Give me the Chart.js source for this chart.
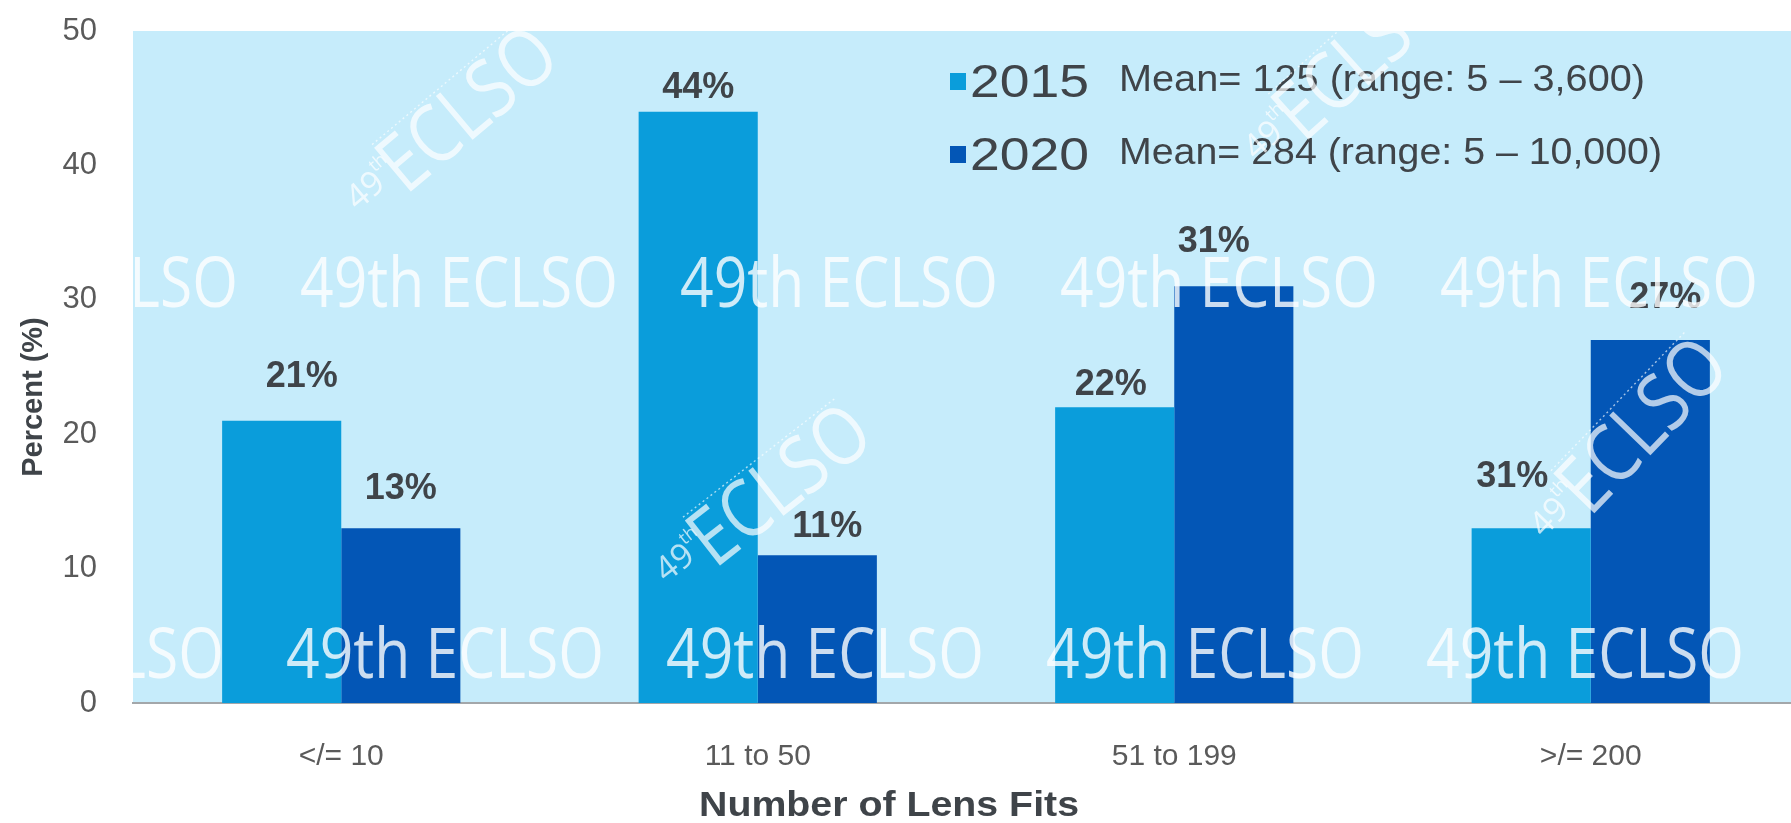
<!DOCTYPE html>
<html>
<head>
<meta charset="utf-8">
<title>Number of Lens Fits</title>
<script src="https://cdn.jsdelivr.net/npm/chart.js@4.4.0/dist/chart.umd.min.js"></script>
<style>
  html, body { margin: 0; padding: 0; background: #fff; overflow: hidden; }
  canvas { display: block; }
</style>
</head>
<body>
<canvas id="chart" width="1800" height="823"></canvas>
<script>
// ================= DATA =================
const categories = ["</= 10", "11 to 50", "51 to 199", ">/= 200"];
const seriesNames = ["2015", "2020"];
const seriesNotes = ["Mean= 125 (range: 5 \u2013 3,600)", "Mean= 284 (range: 5 \u2013 10,000)"];
const pct2015 = [21, 44, 22, 13];
const pct2020 = [13, 11, 31, 27];
// printed value labels, as they appear on the slide
const text2015 = ["21%", "44%", "22%", "31%"];
const text2020 = ["13%", "11%", "31%", "27%"];
const yTicks = [0, 10, 20, 30, 40, 50];

// ================= STYLE =================
const FONT = "'Liberation Sans', Arial, sans-serif";
const colors = ["#0a9ddb", "#0356b6"];
const plotBg = "#c6ecfb";
const textDark = "#3f4449";
const textGrey = "#5a5a5a";
// how far each value label sits above its bar, and a small sideways nudge
const labelLift = [[44, 24, 22, 51], [39, 28, 44, 42]];
const labelNudge = [[20, 0, -4, -19], [0, 10, -20, 15]];
const stamps = [
    { x: 470, y: 112, a: -40 },
    { x: 782, y: 488, a: -38 },
    { x: 1645, y: 428, a: -46 },
    { x: 1365, y: 58, a: -42 }
];

// text squeezed or stretched to a set width (the slide uses a narrow face)
function fitText(ctx, text, x, y, width){
    const w = ctx.measureText(text).width;
    ctx.save();
    ctx.translate(x, y);
    ctx.scale(width / w, 1);
    ctx.fillText(text, 0, 0);
    ctx.restore();
}

// ================= PLUGINS =================
const plotBackground = {
    id: "plotBackground",
    beforeDraw(chart){
        const { ctx, chartArea: a } = chart;
        ctx.save();
        ctx.fillStyle = plotBg;
        ctx.fillRect(a.left, a.top, a.right - a.left, a.bottom - a.top);
        ctx.restore();
    }
};

const valueLabels = {
    id: "valueLabels",
    afterDatasetsDraw(chart){
        const ctx = chart.ctx;
        const texts = [text2015, text2020];
        ctx.save();
        ctx.font = "bold 36px " + FONT;
        ctx.fillStyle = textDark;
        ctx.textAlign = "center";
        ctx.textBaseline = "middle";
        chart.data.datasets.forEach((ds, d) => {
            chart.getDatasetMeta(d).data.forEach((bar, i) => {
                ctx.fillText(texts[d][i], bar.x + labelNudge[d][i], bar.y - labelLift[d][i]);
            });
        });
        ctx.restore();
    }
};

const legendAndTitles = {
    id: "legendAndTitles",
    afterDraw(chart){
        const ctx = chart.ctx;
        ctx.save();
        ctx.textBaseline = "middle";
        ctx.textAlign = "left";
        const rows = [81, 154];
        const noteWidths = [526, 543];
        chart.data.datasets.forEach((ds, i) => {
            ctx.fillStyle = ds.backgroundColor;
            ctx.fillRect(950, rows[i] - 8, 16, 17);
            ctx.fillStyle = textDark;
            ctx.font = "46px " + FONT;
            fitText(ctx, ds.label, 970, rows[i] + 3, 119);
            ctx.font = "37px " + FONT;
            fitText(ctx, seriesNotes[i], 1119, rows[i], noteWidths[i]);
        });

        // axis titles
        ctx.fillStyle = textDark;
        ctx.textAlign = "left";
        ctx.font = "bold 35px " + FONT;
        fitText(ctx, "Number of Lens Fits", 699, 806, 380);

        ctx.textAlign = "center";
        ctx.translate(34, 397);
        ctx.rotate(-Math.PI / 2);
        ctx.font = "bold 29px " + FONT;
        ctx.fillText("Percent (%)", 0, 0);
        ctx.restore();
    }
};

function drawStamp(ctx, s){
    ctx.save();
    ctx.translate(s.x, s.y);
    ctx.rotate(s.a * Math.PI / 180);
    ctx.fillStyle = "rgba(255,255,255,0.7)";
    ctx.strokeStyle = "rgba(255,255,255,0.65)";
    ctx.textBaseline = "middle";
    ctx.textAlign = "center";

    ctx.save();
    ctx.scale(0.85, 1);
    ctx.font = "80px 'Open Sans', sans-serif";
    ctx.fillText("ECLSO", 0, 0);
    ctx.restore();

    ctx.textAlign = "left";
    ctx.font = "34px 'Open Sans', sans-serif";
    ctx.fillText("49", -150, -6);
    ctx.font = "18px 'Open Sans', sans-serif";
    ctx.fillText("th", -112, -20);

    ctx.setLineDash([2, 3]);
    ctx.lineWidth = 1.4;
    ctx.beginPath();
    ctx.moveTo(-96, -38);
    ctx.lineTo(96, -38);
    ctx.stroke();
    ctx.restore();
}

const watermark = {
    id: "watermark",
    afterDraw(chart){
        const { ctx, chartArea: a } = chart;
        ctx.save();
        ctx.beginPath();
        ctx.rect(a.left, a.top, a.right - a.left, a.bottom - a.top);
        ctx.clip();
        ctx.fillStyle = "rgba(255,255,255,0.8)";
        ctx.font = "70px 'Open Sans', sans-serif";
        ctx.textBaseline = "alphabetic";
        ctx.textAlign = "left";
        const word = "49th ECLSO";
        [[307, -80], [678, -94]].forEach(([base, start]) => {
            for(let x = start; x < a.right; x += 380){
                fitText(ctx, word, x, base, 318);
            }
        });
        ctx.restore();

        stamps.forEach(s => drawStamp(ctx, s));
    }
};

// ================= CHART =================
const ctx = document.getElementById("chart").getContext("2d");

const chart = new Chart(ctx, {
    type: "bar",
    data: {
        labels: categories,
        datasets: [
            { label: seriesNames[0], data: pct2015, backgroundColor: colors[0] },
            { label: seriesNames[1], data: pct2020, backgroundColor: colors[1] }
        ]
    },
    options: {
        responsive: false,
        animation: false,
        devicePixelRatio: 1,
        layout: { padding: { top: 31, right: 1, bottom: 0, left: 0 } },
        datasets: {
            bar: { categoryPercentage: 0.572, barPercentage: 1, borderWidth: 0 }
        },
        plugins: {
            legend: { display: false },
            tooltip: { enabled: false }
        },
        scales: {
            x: {
                grid: { display: false, drawTicks: false },
                border: { display: true, color: "#a3a7aa", width: 2 },
                ticks: {
                    padding: 36,
                    color: textGrey,
                    font: { size: 30, family: FONT }
                },
                afterFit(scale){ scale.height = 120; }
            },
            y: {
                min: 0,
                max: 50,
                afterBuildTicks(scale){ scale.ticks = yTicks.map(v => ({ value: v })); },
                // invisible tick marks give the gap between labels and the plot
                grid: { display: false, drawTicks: true, tickLength: 32 },
                border: { display: false },
                ticks: {
                    padding: 4,
                    color: textGrey,
                    font: { size: 31, family: FONT }
                },
                afterFit(scale){ scale.width = 133; }
            }
        }
    },
    plugins: [plotBackground, valueLabels, legendAndTitles, watermark]
});
</script>
</body>
</html>
